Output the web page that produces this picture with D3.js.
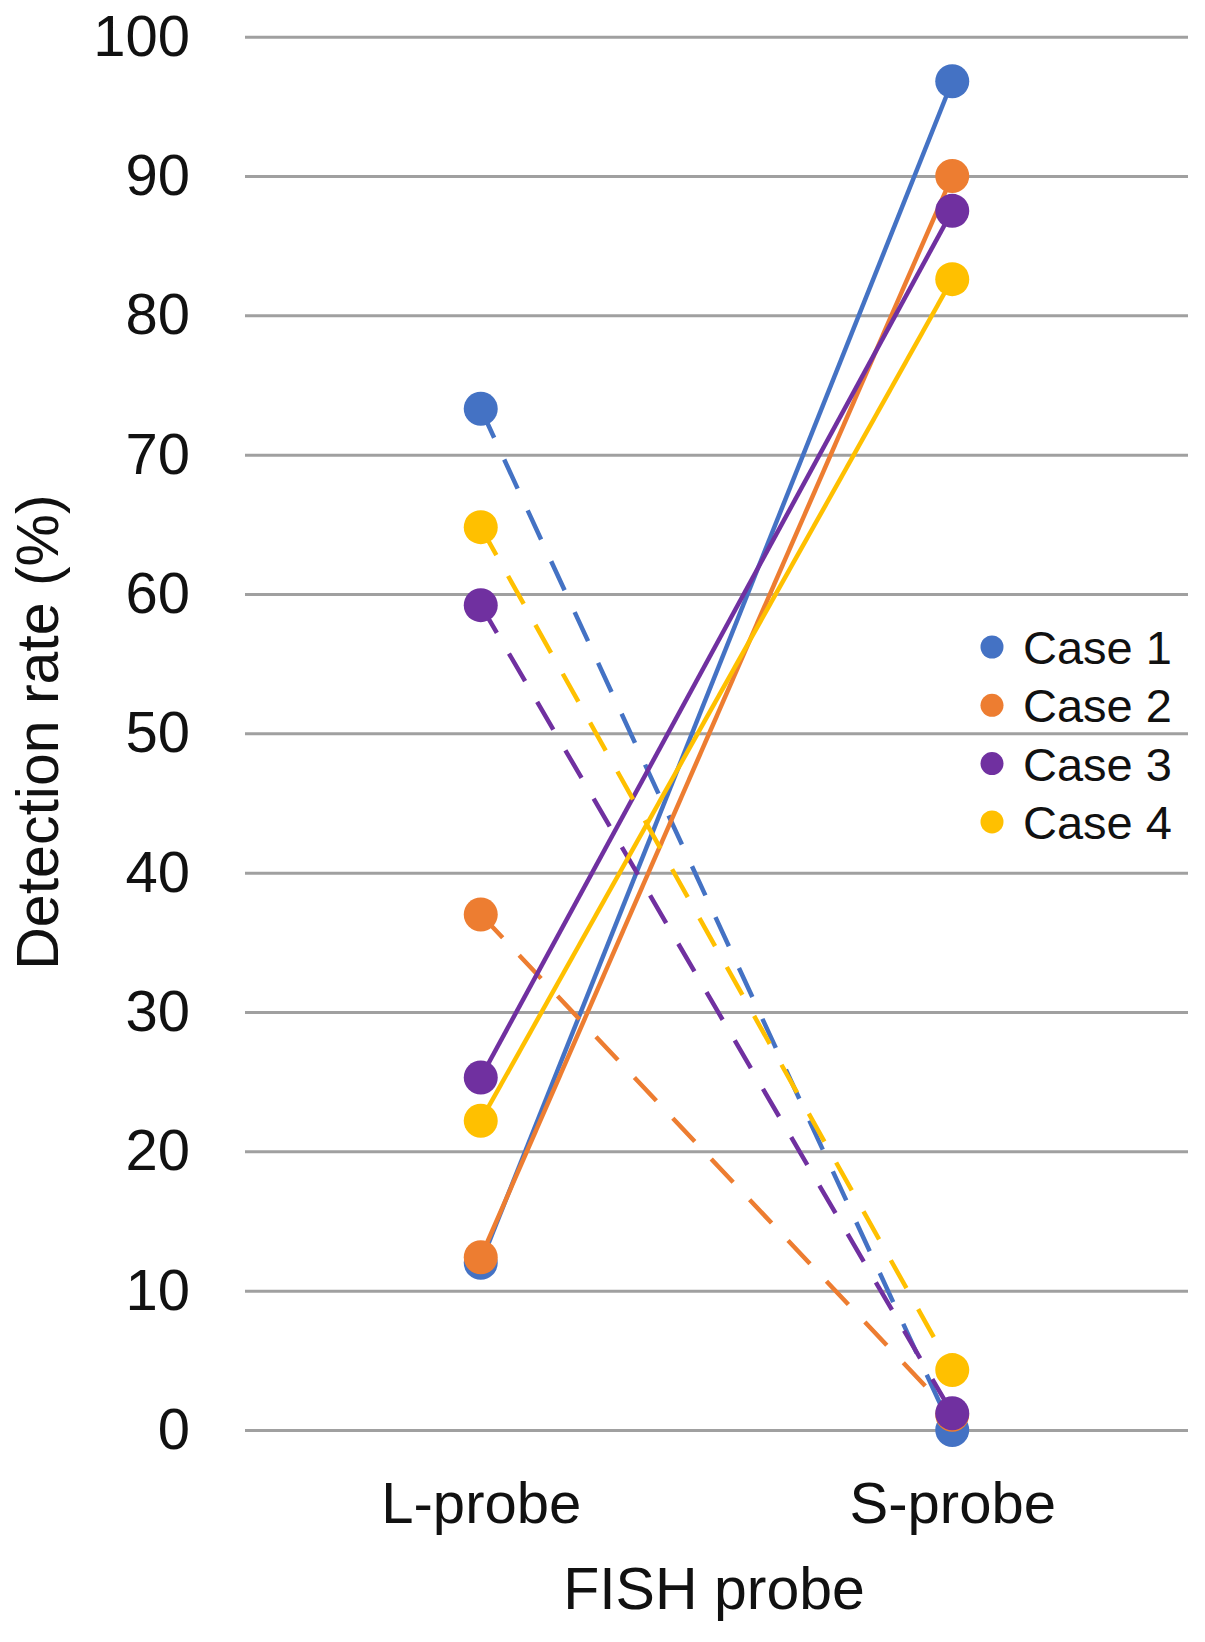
<!DOCTYPE html>
<html lang="en">
<head>
    <meta charset="UTF-8">
    <title>Detection rate by FISH probe</title>
    <script src="https://d3js.org/d3.v7.min.js"></script>
    <style>
        body { margin: 0; background: #fff; }
        text { font-family: "Liberation Sans", Arial, sans-serif; fill: #111; }
        .grid line { stroke: #a0a0a0; stroke-width: 3; }
    </style>
</head>
<body>
<script>
    // Data
    const probes = ["L-probe", "S-probe"];
    const cases = ["Case 1", "Case 2", "Case 3", "Case 4"];
    const caseColors = ["#4472C4", "#ED7D31", "#7030A0", "#FFC000"];
    // solid lines: low at L-probe, high at S-probe
    const solidValues = [[12.0, 96.8], [12.4, 90.0], [25.3, 87.5], [22.2, 82.6]];
    // dashed lines: high at L-probe, low at S-probe
    const dashedValues = [[73.3, 0], [37.0, 1.1], [59.2, 1.2], [64.8, 4.3]];
    const yTicks = [0, 10, 20, 30, 40, 50, 60, 70, 80, 90, 100];

    const width = 1205;
    const height = 1642;
    const margin = { top: 36.7, right: 17, bottom: 212, left: 245 };

    const svg = d3.select("body").append("svg")
        .attr("width", width)
        .attr("height", height);

    const x = d3.scalePoint()
        .domain(probes)
        .range([margin.left, width - margin.right])
        .padding(0.5);

    const y = d3.scaleLinear()
        .domain([0, 100])
        .range([height - margin.bottom, margin.top]);

    // Gridlines + y tick labels
    svg.append("g")
        .attr("class", "grid")
        .attr("transform", `translate(${margin.left},0)`)
        .call(d3.axisLeft(y).tickValues(yTicks)
            .tickSize(-(width - margin.right - margin.left))
            .tickPadding(55))
        .call(g => g.select(".domain").remove())
        .call(g => g.selectAll("text")
            .attr("font-size", 58)
            .attr("font-family", "Liberation Sans, Arial, sans-serif")
            .style("fill", "#111"));

    // x axis labels
    svg.append("g")
        .attr("transform", `translate(0,${height - margin.bottom})`)
        .call(d3.axisBottom(x).tickSize(0).tickPadding(52))
        .call(g => g.select(".domain").remove())
        .call(g => g.selectAll("text")
            .attr("font-size", 58)
            .attr("font-family", "Liberation Sans, Arial, sans-serif")
            .style("fill", "#111"));

    const line = d3.line()
        .x((d, i) => x(probes[i]))
        .y(d => y(d));

    // Lines and markers for each case
    cases.forEach((c, i) => {
        const color = caseColors[i];

        svg.append("path")
            .datum(dashedValues[i])
            .attr("fill", "none")
            .attr("stroke", color)
            .attr("stroke-width", 4.5)
            .attr("stroke-dasharray", "32,24")
            .attr("d", line);

        svg.append("path")
            .datum(solidValues[i])
            .attr("fill", "none")
            .attr("stroke", color)
            .attr("stroke-width", 4.5)
            .attr("d", line);

        const pts = solidValues[i].map((v, j) => ({ probe: probes[j], v }))
            .concat(dashedValues[i].map((v, j) => ({ probe: probes[j], v })));

        svg.selectAll(`.pt-${i}`)
            .data(pts)
            .enter()
            .append("circle")
            .attr("cx", d => x(d.probe))
            .attr("cy", d => y(d.v))
            .attr("r", 17)
            .attr("fill", color);
    });

    // Legend
    const legend = svg.selectAll(".legend")
        .data(cases)
        .enter()
        .append("g")
        .attr("class", "legend")
        .attr("transform", (d, i) => `translate(992, ${647 + i * 58.3})`);

    legend.append("circle")
        .attr("r", 11.5)
        .attr("fill", (d, i) => caseColors[i]);

    legend.append("text")
        .attr("x", 31)
        .attr("dy", "0.36em")
        .attr("font-size", 47)
        .text(d => d);

    // Axis titles
    svg.append("text")
        .attr("text-anchor", "middle")
        .attr("x", 714)
        .attr("y", 1609)
        .attr("font-size", 59)
        .text("FISH probe");

    svg.append("text")
        .attr("text-anchor", "middle")
        .attr("transform", "translate(58,732) rotate(-90)")
        .attr("font-size", 59)
        .text("Detection rate (%)");
</script>
</body>
</html>
